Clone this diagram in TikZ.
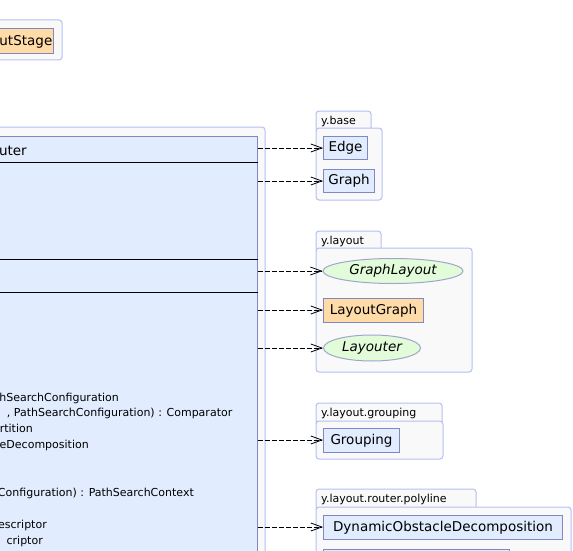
\documentclass[tikz,border=0pt]{standalone}
\usepackage{fontspec}
\setmainfont{DejaVu Sans}
\usetikzlibrary{shapes.geometric,arrows.meta}
\definecolor{pkgfill}{HTML}{F9F9F9}
\definecolor{pkgline}{HTML}{B4C0F4}
\definecolor{clsfill}{HTML}{E1ECFF}
\definecolor{clsline}{HTML}{8088C4}
\definecolor{orfill}{HTML}{FFDBA8}
\definecolor{grfill}{HTML}{E2FCDA}
\definecolor{grline}{HTML}{9EA6CC}
\begin{document}
\begin{tikzpicture}[x=1pt,y=-1pt,
 pkg/.style={draw=pkgline, fill=pkgfill, line width=1pt, rounded corners=3pt},
 cls/.style={draw=clsline, fill=clsfill, line width=1pt, inner sep=0pt, text height=10pt, text depth=3pt, font=\fontsize{13.5}{16}\selectfont},
 orcls/.style={cls, fill=orfill},
 iface/.style={ellipse, draw=grline, fill=grfill, line width=1pt, inner sep=0pt, text height=10pt, text depth=3pt, font=\fontsize{13.5}{16}\selectfont\itshape},
 pkglabel/.style={anchor=base west, inner sep=0pt, font=\fontsize{11}{13}\selectfont},
 member/.style={anchor=base east, inner sep=0pt, font=\fontsize{11}{13}\selectfont},
 title/.style={anchor=base east, inner sep=0pt, font=\fontsize{13.5}{16}\selectfont},
 dep/.style={draw=black, line width=0.8pt, dash pattern=on 5pt off 2pt, -{Straight Barb[length=11pt,width=8pt,line width=0.8pt]}},
 sepline/.style={draw=black, line width=1pt}
]
\useasboundingbox (0,0) rectangle (573,551);
% top-left package
\draw[pkg] (-20,20) rectangle (62,60);
\node[orcls, anchor=north east, minimum width=80pt, minimum height=25pt] (stage) at (54,28) {};
\node[title] (stagetext) at (52.5,46) {utStage};
% main package and class
\draw[pkg] (-20,127) rectangle (265,620);
\node[cls, anchor=north east, minimum width=290pt, minimum height=480pt] (router) at (257.5,136) {};
\node[title] (rtitle) at (27,155) {uter};
\draw[sepline] (router.west |- 0,162) -- (router.east |- 0,162);
\draw[sepline] (router.west |- 0,259) -- (router.east |- 0,259);
\draw[sepline] (router.west |- 0,292) -- (router.east |- 0,292);
\node[member] (m1) at (119,401) {hSearchConfiguration};
\node[member] (m2) at (232.5,416) {, PathSearchConfiguration) : Comparator};
\node[member] (m3) at (33,432) {rtition};
\node[member] (m4) at (89,448) {eDecomposition};
\node[member] (m5) at (194,496) {Configuration) : PathSearchContext};
\node[member] (m6) at (47,528) {escriptor};
\node[member] (m7) at (43,544) {criptor};
% y.base
\draw[pkg] (316,111) rectangle (371,132);
\draw[pkg] (316,128) rectangle (382,200);
\node[pkglabel] (lbase) at (321,124) {y.base};
\node[cls, anchor=north west, minimum width=44pt, minimum height=23pt] (edge) at (323,136) {Edge};
\node[cls, anchor=north west, minimum width=51pt, minimum height=23pt] (graph) at (323,169) {Graph};
% y.layout
\draw[pkg] (316,231) rectangle (381,252);
\draw[pkg] (316,248) rectangle (472,372);
\node[pkglabel] (llayout) at (321,244) {y.layout};
\node[iface, minimum width=140pt, minimum height=25pt] (graphlayout) at (393,271) {GraphLayout};
\node[orcls, anchor=north west, minimum width=100pt, minimum height=24pt] (layoutgraph) at (323,298) {LayoutGraph};
\node[iface, minimum width=97pt, minimum height=26pt] (layouter) at (372,348) {Layouter};
% y.layout.grouping
\draw[pkg] (316,403) rectangle (442,425);
\draw[pkg] (316,421) rectangle (443,459);
\node[pkglabel] (lgroup) at (321,416) {y.layout.grouping};
\node[cls, anchor=north west, minimum width=76pt, minimum height=24pt] (grouping) at (323,428) {Grouping};
% y.layout.router.polyline
\draw[pkg] (316,489) rectangle (476,511);
\draw[pkg] (316,507) rectangle (571,620);
\node[pkglabel] (lpoly) at (321,502) {y.layout.router.polyline};
\node[cls, anchor=north west, minimum width=239pt, minimum height=24pt] (dod) at (323,515) {DynamicObstacleDecomposition};
\node[cls, anchor=north west, minimum width=186pt, minimum height=30pt] (next) at (323,549) {};
% dependencies
\coordinate (s1) at (257.5,148);
\coordinate (s2) at (257.5,181);
\coordinate (s3) at (257.5,271);
\coordinate (s4) at (257.5,310);
\coordinate (s5) at (257.5,348);
\coordinate (s6) at (257.5,440);
\coordinate (s7) at (257.5,527);
\draw[dep] (s1) -- (s1 -| edge.west);
\draw[dep] (s2) -- (s2 -| graph.west);
\draw[dep] (s3) -- (graphlayout.west);
\draw[dep] (s4) -- (s4 -| layoutgraph.west);
\draw[dep] (s5) -- (layouter.west);
\draw[dep] (s6) -- (s6 -| grouping.west);
\draw[dep] (s7) -- (s7 -| dod.west);
\end{tikzpicture}
\end{document}
